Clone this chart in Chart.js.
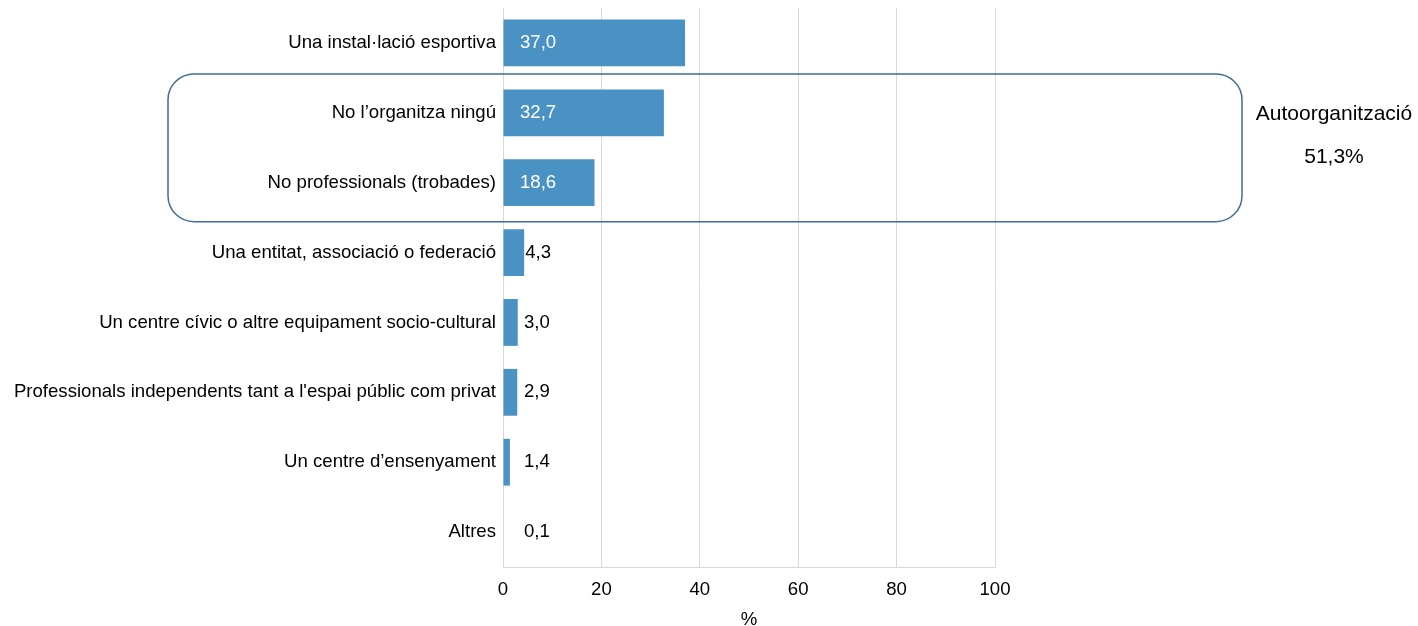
<!DOCTYPE html>
<html>
<head>
<meta charset="utf-8">
<script src="https://cdn.jsdelivr.net/npm/chart.js@4"></script>
<style>
  html, body { margin: 0; padding: 0; background: #fff; }
  #wrap { width: 1418px; height: 626px; }
</style>
</head>
<body>
<div id="wrap"><canvas id="grafico"></canvas></div>
<script>
const categorias = [
  "Una instal·lació esportiva",
  "No l’organitza ningú",
  "No professionals (trobades)",
  "Una entitat, associació o federació",
  "Un centre cívic o altre equipament socio-cultural",
  "Professionals independents tant a l'espai públic com privat",
  "Un centre d’ensenyament",
  "Altres"
];
const valors = [37.0, 32.7, 18.6, 4.3, 3.0, 2.9, 1.4, 0.1];
const xTicks = [0, 20, 40, 60, 80, 100];
const grupText = "Autoorganització";
const grupValor = "51,3%";

const fmt = v => v.toFixed(1).replace(".", ",");
const FONT = "'Liberation Sans', Arial, sans-serif";
const MIDA = 18.6;

// etiquetes de valor: dins la barra (blanc) si hi cap, si no a fora (negre)
const etiquetes = {
  id: "etiquetes",
  afterDatasetsDraw(chart) {
    const ctx = chart.ctx;
    const meta = chart.getDatasetMeta(0);
    const x0 = chart.scales.x.getPixelForValue(0);
    ctx.save();
    ctx.font = MIDA + "px " + FONT;
    ctx.textBaseline = "middle";
    ctx.textAlign = "left";
    meta.data.forEach((bar, i) => {
      const v = valors[i];
      if (v > 10) {
        ctx.fillStyle = "#ffffff";
        ctx.fillText(fmt(v), x0 + 17, bar.y);
      } else {
        ctx.fillStyle = "#000000";
        ctx.fillText(fmt(v), Math.max(bar.x + 1, x0 + 21), bar.y);
      }
    });
    ctx.restore();
  }
};

// requadre arrodonit de l'autoorganització
const requadre = {
  id: "requadre",
  afterDraw(chart) {
    const ctx = chart.ctx;
    const y = chart.scales.y;
    const top = (y.getPixelForValue(0) + y.getPixelForValue(1)) / 2 - 4;
    const bottom = (y.getPixelForValue(2) + y.getPixelForValue(3)) / 2 + 4;
    const left = 168, right = 1242, r = 26;
    ctx.save();
    ctx.strokeStyle = "#3d6f99";
    ctx.lineWidth = 1.5;
    ctx.beginPath();
    ctx.roundRect(left, top, right - left, bottom - top, r);
    ctx.stroke();
    ctx.fillStyle = "#000000";
    ctx.font = "21px " + FONT;
    ctx.textAlign = "center";
    ctx.textBaseline = "middle";
    ctx.fillText(grupText, 1334, 114);
    ctx.fillText(grupValor, 1334, 157);
    ctx.restore();
  }
};

new Chart(document.getElementById("grafico"), {
  type: "bar",
  data: {
    labels: categorias,
    datasets: [{
      data: valors,
      backgroundColor: "#4a91c4",
      barPercentage: 0.67,
      categoryPercentage: 1
    }]
  },
  options: {
    indexAxis: "y",
    responsive: true,
    maintainAspectRatio: false,
    animation: false,
    layout: { padding: { top: 8, right: 423, left: 0, bottom: 0 } },
    plugins: { legend: { display: false }, tooltip: { enabled: false } },
    scales: {
      x: {
        min: 0, max: 100,
        afterBuildTicks: s => { s.ticks = xTicks.map(v => ({ value: v })); },
        afterFit: s => { s.height = 59; },
        grid: { color: "#d9d9d9", drawTicks: false },
        border: { display: true, color: "#d9d9d9" },
        ticks: { color: "#000", font: { family: FONT, size: MIDA }, padding: 12 },
        title: { display: true, text: "%", color: "#000", font: { family: FONT, size: MIDA }, padding: { top: 0, bottom: -5 } }
      },
      y: {
        afterFit: s => { s.width = 503; s.paddingTop = 0; s.paddingBottom = 0; },
        grid: { display: false, drawTicks: false },
        border: { display: false },
        ticks: { color: "#000", font: { family: FONT, size: MIDA }, padding: 7, autoSkip: false }
      }
    }
  },
  plugins: [etiquetes, requadre]
});
</script>
</body>
</html>
